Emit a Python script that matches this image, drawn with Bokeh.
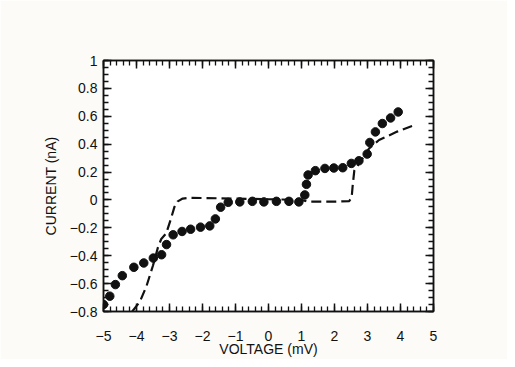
from bokeh.plotting import figure
from bokeh.models import LinearAxis, FixedTicker, Range1d
from bokeh.embed import file_html
from bokeh.resources import INLINE

# Measured data (dots)
meas_v = [-5.0, -4.81, -4.64, -4.43, -4.08, -3.78, -3.49, -3.24, -3.09, -2.89,
          -2.62, -2.36, -2.06, -1.78, -1.61, -1.45, -1.22, -0.87, -0.49, -0.14,
          0.24, 0.62, 0.92, 1.10, 1.15, 1.20, 1.42, 1.71, 1.98, 2.25,
          2.51, 2.74, 2.99, 3.07, 3.24, 3.45, 3.70, 3.93]
meas_i = [-0.75, -0.69, -0.607, -0.543, -0.483, -0.452, -0.417, -0.393, -0.32, -0.25,
          -0.226, -0.21, -0.195, -0.186, -0.136, -0.052, -0.017, -0.014, -0.01, -0.014,
          -0.01, -0.01, -0.014, 0.036, 0.112, 0.179, 0.21, 0.226, 0.229, 0.231,
          0.262, 0.281, 0.329, 0.412, 0.488, 0.548, 0.588, 0.631]

# Theory curve (dashed)
theo_v = [-4.13, -3.9, -3.7, -3.5, -3.35, -3.25, -3.1, -2.95, -2.85, -2.75,
          -2.6, -2.4, -1.5, 0.0, 1.0, 1.2, 2.0, 2.45, 2.52, 2.55,
          2.6, 2.8, 3.05, 3.35, 3.9, 4.35]
theo_i = [-0.80, -0.73, -0.62, -0.47, -0.34, -0.28, -0.24, -0.13, -0.05, -0.01,
          0.01, 0.015, 0.012, 0.005, 0.0, -0.012, -0.012, -0.008, 0.02, 0.10,
          0.21, 0.28, 0.37, 0.43, 0.49, 0.53]

x_ticks = [-5, -4, -3, -2, -1, 0, 1, 2, 3, 4, 5]
x_labels = ["\u22125", "\u22124", "\u22123", "\u22122", "\u22121", "0", "1", "2", "3", "4", "5"]
y_ticks = [-0.8, -0.6, -0.4, -0.2, 0, 0.2, 0.4, 0.6, 0.8, 1]
y_labels = ["\u22120.8", "\u22120.6", "\u22120.4", "\u22120.2", "0", "0.2", "0.4", "0.6", "0.8", "1"]
x_minor = [round(-5 + 0.2 * k, 2) for k in range(51)]
y_minor = [round(-0.8 + 0.05 * k, 3) for k in range(37)]

FONT = "Liberation Sans"
INK = "#111111"

p = figure(width=507, height=359, output_backend="svg", toolbar_location=None,
           x_range=Range1d(-5, 5), y_range=Range1d(-0.8, 1),
           min_border_left=103, min_border_right=74, min_border_top=60, min_border_bottom=46)
p.background_fill_color = None
p.border_fill_color = "#fcfbf8"
p.outline_line_color = INK
p.outline_line_width = 1.5
p.xgrid.visible = False
p.ygrid.visible = False


def style(ax, show_labels):
    ax.major_tick_in = 8
    ax.major_tick_out = 0
    ax.minor_tick_in = 5
    ax.minor_tick_out = 0
    ax.axis_line_color = INK
    ax.axis_line_width = 1.5
    ax.major_tick_line_color = INK
    ax.major_tick_line_width = 1.5
    ax.minor_tick_line_color = INK
    ax.minor_tick_line_width = 1.3
    ax.major_label_text_font = FONT
    ax.major_label_text_font_size = "14px"
    ax.major_label_text_color = INK if show_labels else None
    ax.axis_label_text_font = FONT
    ax.axis_label_text_font_size = "14px"
    ax.axis_label_text_font_style = "normal"
    ax.axis_label_text_color = INK


xb = p.xaxis[0]
xb.ticker = FixedTicker(ticks=x_ticks, minor_ticks=x_minor)
xb.major_label_overrides = dict(zip(x_ticks, x_labels))
xb.axis_label = "VOLTAGE (mV)"
style(xb, True)
xb.major_label_standoff = 19
xb.axis_label_standoff = -3

xt = LinearAxis(ticker=FixedTicker(ticks=x_ticks, minor_ticks=x_minor))
style(xt, False)
xt.major_label_text_font_size = "1px"
p.add_layout(xt, "above")

yl = p.yaxis[0]
yl.ticker = FixedTicker(ticks=y_ticks, minor_ticks=y_minor)
yl.major_label_overrides = dict(zip(y_ticks, y_labels))
yl.axis_label = "CURRENT (nA)"
style(yl, True)
yl.major_label_standoff = 6
yl.axis_label_standoff = 8

yr = LinearAxis(ticker=FixedTicker(ticks=y_ticks, minor_ticks=y_minor))
style(yr, False)
yr.major_label_text_font_size = "1px"
p.add_layout(yr, "right")

p.line(theo_v, theo_i, line_color=INK, line_width=2.2, line_dash="10 5")
p.scatter(meas_v, meas_i, size=8.5, fill_color=INK, line_color=INK)

open("out.html", "w").write(file_html(p, INLINE))
